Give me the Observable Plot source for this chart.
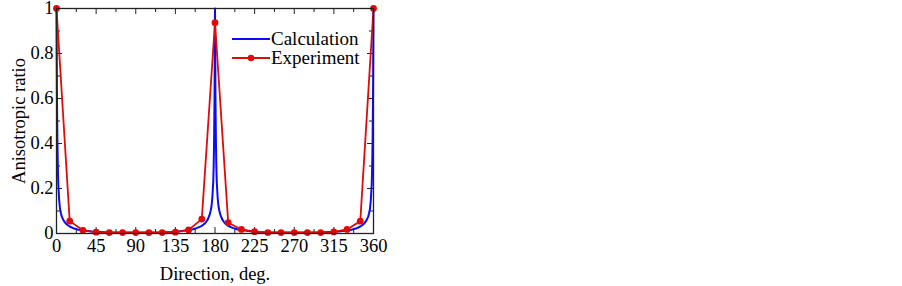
<!DOCTYPE html>
<html>
<head>
<meta charset="utf-8">
<script src="https://cdn.jsdelivr.net/npm/d3@7"></script>
<script src="https://cdn.jsdelivr.net/npm/@observablehq/plot@0.6"></script>
<style>
  html, body { margin: 0; padding: 0; background: #fff; }
  #chart { width: 902px; height: 286px; }
</style>
</head>
<body>
<div id="chart"></div>
<script>
// ---- data ----
const expDeg = [0,15,30,45,60,75,90,105,120,135,150,165,180,195,210,225,240,255,270,285,300,315,330,345,360];
const expVal = [1.0,0.055,0.014,0.006,0.004,0.004,0.004,0.004,0.004,0.006,0.016,0.064,0.937,0.048,0.018,0.008,0.004,0.004,0.004,0.004,0.004,0.007,0.018,0.055,1.0];

const calcDeg = [0,0.5,1,1.5,2,3,4,5,6,8,10,12,15,20,25,30,40,50,60,75,90,
  105,120,130,140,150,155,160,165,168,170,172,174,175,176,177,178,178.5,179,179.5,180,
  180.5,181,181.5,182,183,184,185,186,188,190,192,195,200,205,210,220,230,240,255,270,
  285,300,310,320,330,335,340,345,348,350,352,354,355,356,357,358,358.5,359,359.5,360];
const calcVal = [1,0.62,0.42,0.3,0.22,0.15,0.11,0.09,0.075,0.058,0.047,0.039,0.031,0.022,0.017,0.013,0.009,0.007,0.005,0.004,0.004,
  0.004,0.005,0.007,0.010,0.015,0.019,0.025,0.034,0.043,0.052,0.064,0.085,0.1,0.12,0.16,0.23,0.3,0.42,0.62,1,
  0.62,0.42,0.3,0.23,0.16,0.12,0.1,0.085,0.064,0.052,0.043,0.034,0.025,0.019,0.015,0.010,0.007,0.005,0.004,0.004,
  0.004,0.005,0.007,0.009,0.013,0.017,0.022,0.031,0.039,0.047,0.058,0.075,0.09,0.11,0.15,0.22,0.3,0.42,0.62,1];

const xMajorTicks = [0,45,90,135,180,225,270,315,360];
const xMinorTicks = [22.5,67.5,112.5,157.5,202.5,247.5,292.5,337.5];
const yMajorTicks = [0,0.2,0.4,0.6,0.8,1];
const yMinorTicks = [0.1,0.3,0.5,0.7,0.9];

const seriesNames = ["Calculation","Experiment"];
const seriesColors = ["#0a0aff","#e00a0a"];

// ---- build tables ----
const calc = calcDeg.map((d,i) => ({deg: d, val: calcVal[i]}));
const exp = expDeg.map((d,i) => ({deg: d, val: expVal[i]}));

const W = 902, H = 286;
const mL = 56, mR = 529, mT = 8, mB = 53;
const ph = H - mT - mB, pw = W - mL - mR;
const fontFamily = "'Liberation Serif', 'Times New Roman', serif";

const plot = Plot.plot({
  width: W, height: H,
  marginLeft: mL, marginRight: mR, marginTop: mT, marginBottom: mB,
  style: {fontFamily, fontSize: "19px", color: "#000", background: "#fff", overflow: "visible"},
  x: {domain: [0,360]},
  y: {domain: [0,1]},
  marks: [
    Plot.axisX({ticks: xMajorTicks, tickSize: 0, tickPadding: 5, fontSize: 18.5, tickFormat: d3.format("~g"),
      label: "Direction, deg.", labelAnchor: "center", labelArrow: "none", labelOffset: 46}),
    Plot.axisY({ticks: yMajorTicks, tickSize: 0, tickPadding: 3, fontSize: 18.5, tickFormat: d3.format("~g"),
      label: "Anisotropic ratio", labelAnchor: "center", labelArrow: "none", labelOffset: 45}),
    // inward ticks on all four sides
    Plot.tickX(xMajorTicks, {x: d => d, insetTop: ph - 6, stroke: "#222"}),
    Plot.tickX(xMajorTicks, {x: d => d, insetBottom: ph - 6, stroke: "#222"}),
    Plot.tickX(xMinorTicks, {x: d => d, insetTop: ph - 4, stroke: "#222"}),
    Plot.tickX(xMinorTicks, {x: d => d, insetBottom: ph - 4, stroke: "#222"}),
    Plot.tickY(yMajorTicks, {y: d => d, insetRight: pw - 6, stroke: "#222"}),
    Plot.tickY(yMajorTicks, {y: d => d, insetLeft: pw - 6, stroke: "#222"}),
    Plot.tickY(yMinorTicks, {y: d => d, insetRight: pw - 4, stroke: "#222"}),
    Plot.tickY(yMinorTicks, {y: d => d, insetLeft: pw - 4, stroke: "#222"}),
    Plot.line(calc, {x: "deg", y: "val", stroke: seriesColors[0], strokeWidth: 2}),
    Plot.line(exp, {x: "deg", y: "val", stroke: seriesColors[1], strokeWidth: 1.8}),
    Plot.dot(exp, {x: "deg", y: "val", fill: seriesColors[1], r: 3.4}),
    Plot.frame({stroke: "#222", strokeWidth: 1.3})
  ]
});

// legend inside the plot area
const svg = d3.select(plot);
const lg = svg.append("g").attr("transform", "translate(232,39)");
seriesNames.forEach((name, i) => {
  const g = lg.append("g").attr("transform", `translate(0,${i * 19})`);
  g.append("line").attr("x1", 0).attr("x2", 38).attr("y1", 0).attr("y2", 0)
    .attr("stroke", seriesColors[i]).attr("stroke-width", i === 0 ? 2 : 1.8);
  if (i === 1) g.append("circle").attr("cx", 19).attr("cy", 0).attr("r", 3.2).attr("fill", seriesColors[i]);
  g.append("text").attr("x", 39).attr("y", 0).attr("dy", "0.32em")
    .attr("text-anchor", "start")
    .attr("font-size", 19).attr("fill", "#000").text(name);
});

document.getElementById("chart").appendChild(plot);
</script>
</body>
</html>
